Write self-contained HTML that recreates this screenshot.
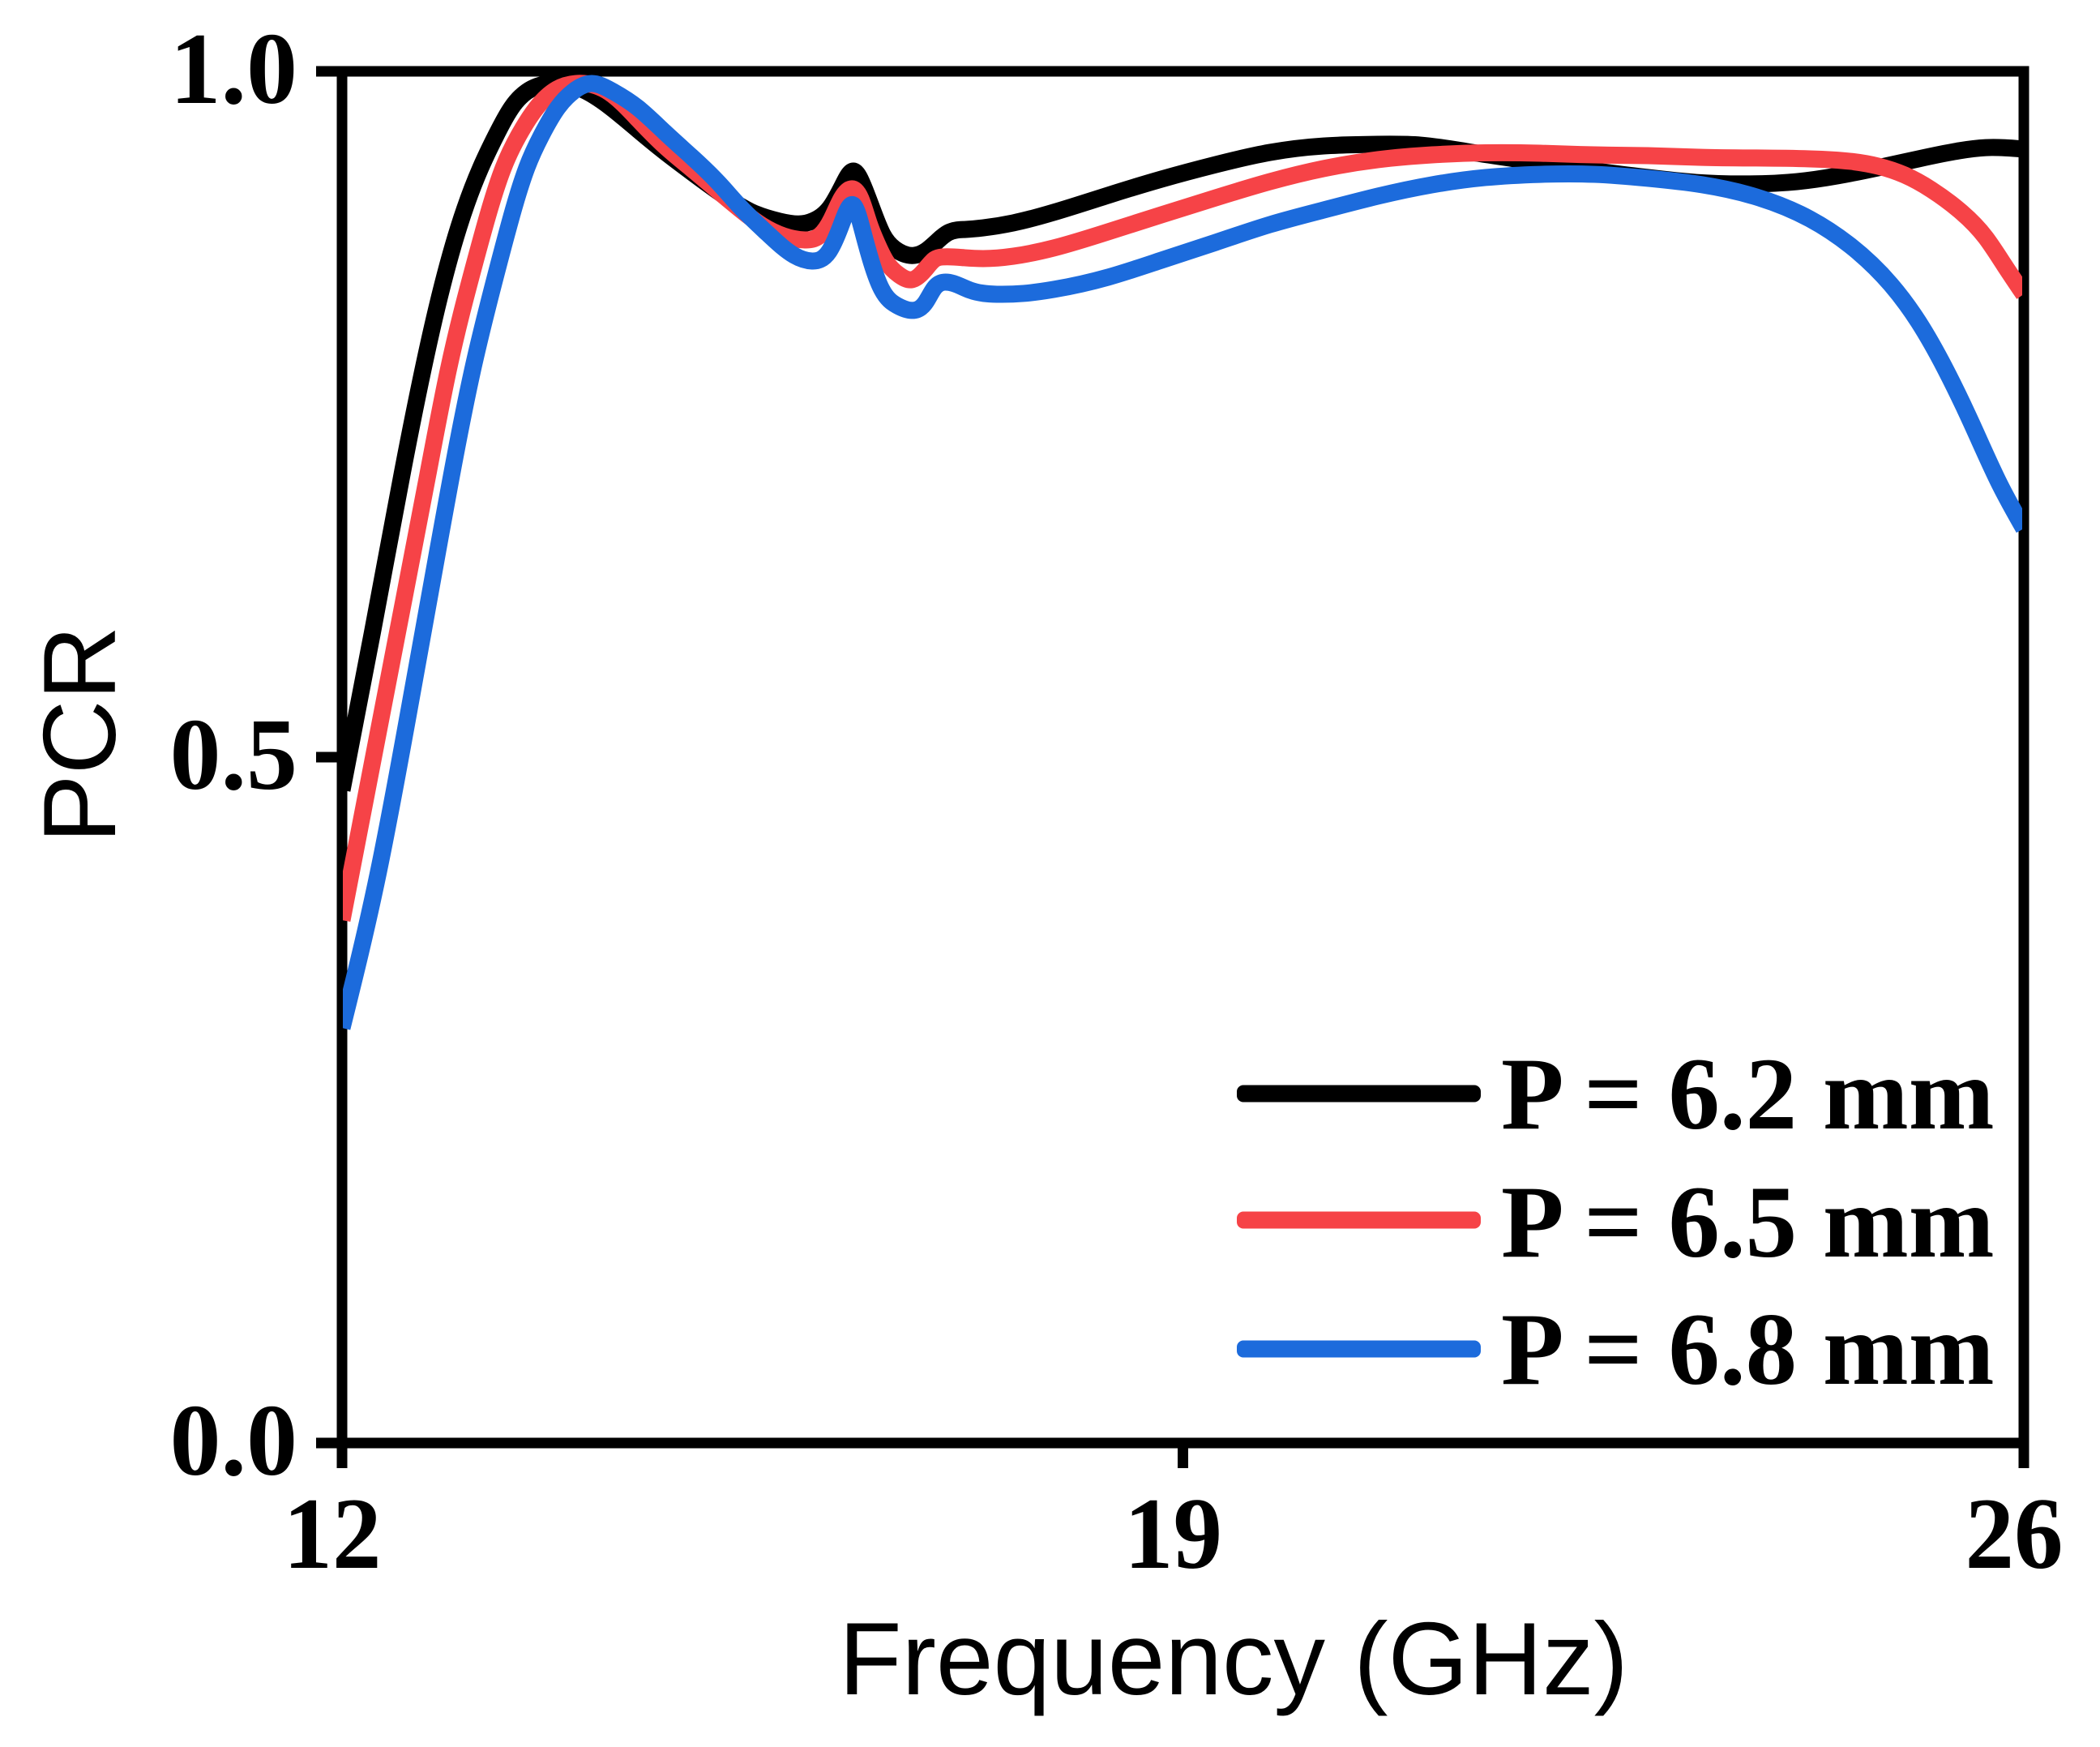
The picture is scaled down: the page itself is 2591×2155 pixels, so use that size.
<!DOCTYPE html>
<html lang="en">
<head>
<meta charset="utf-8">
<title>PCR vs Frequency</title>
<style>
  html, body { margin: 0; padding: 0; background: #fff; }
  svg { display: block; }
  .tick-label { font-family: "Liberation Serif", serif; font-weight: 700; font-size: 126px; fill: #000; }
  .axis-title { font-family: "Liberation Sans", sans-serif; font-size: 127px; fill: #000; }
  .legend-label { font-family: "Liberation Serif", serif; font-weight: 700; font-size: 127px; fill: #000; }
</style>
</head>
<body>
<svg id="chart" xmlns="http://www.w3.org/2000/svg" width="2591" height="2155" viewBox="0 0 2591 2155">
  <rect x="0" y="0" width="2591" height="2155" fill="#ffffff"/>
  <defs>
    <clipPath id="plot-clip"><rect x="423" y="60" width="2072" height="1740"/></clipPath>
  </defs>
  <g id="axes"></g>
  <g id="series" clip-path="url(#plot-clip)" fill="none" stroke-width="21" stroke-linejoin="round"></g>

  <text class="axis-title" x="1035" y="2090">Frequency (GHz)</text>
  <text class="axis-title" text-anchor="middle" transform="translate(142 906) rotate(-90)">PCR</text>

  <g>
    <rect x="1526" y="1338.5" width="301" height="21" rx="8" fill="#000000"/>
    <text class="legend-label" x="1852" y="1392">P = 6.2 mm</text>
    <rect x="1526" y="1494.5" width="301" height="21" rx="8" fill="#F64347"/>
    <text class="legend-label" x="1852" y="1550">P = 6.5 mm</text>
    <rect x="1526" y="1653.5" width="301" height="21" rx="8" fill="#1C6BDC"/>
    <text class="legend-label" x="1852" y="1707">P = 6.8 mm</text>
  </g>
</svg>
<script>
const xTicks = [12, 19, 26];
const yTicks = [0, 0.5, 1];
const xTickLabels = ["12", "19", "26"];
const yTickLabels = ["0.0", "0.5", "1.0"];

const freq62 = [12,12.253,12.506,12.789,12.972,13.154,13.282,13.41,13.538,13.727,13.963,14.233,14.463,14.685,14.908,15.218,15.4,15.643,15.832,15.954,16.062,16.17,16.257,16.352,16.419,16.5,16.601,16.763,16.865,16.959,17.047,17.182,17.337,17.587,17.924,18.376,18.821,19.273,19.725,20.171,20.623,20.98,21.365,21.857,22.491,22.87,23.274,23.659,24.111,24.448,24.786,25.123,25.46,25.683,26];
const pcr62 = [0.476,0.591,0.7092,0.8274,0.8865,0.9297,0.9533,0.9734,0.9852,0.9911,0.9882,0.974,0.9574,0.9415,0.9267,0.9072,0.8978,0.8907,0.8889,0.8924,0.9007,0.9173,0.9273,0.9137,0.8983,0.8812,0.8706,0.8658,0.8694,0.8765,0.8824,0.8847,0.8859,0.8895,0.8972,0.9096,0.9214,0.932,0.9409,0.9456,0.9468,0.9462,0.9415,0.935,0.9267,0.9226,0.919,0.9179,0.9196,0.9238,0.9297,0.9362,0.9421,0.9444,0.9433];

const freq65 = [12,12.202,12.462,12.715,12.884,13.107,13.343,13.471,13.619,13.788,13.943,14.233,14.463,14.685,14.908,15.313,15.495,15.677,15.853,15.981,16.075,16.156,16.237,16.318,16.386,16.453,16.527,16.635,16.743,16.851,16.932,16.999,17.182,17.337,17.587,17.924,18.376,18.821,19.273,19.725,20.171,20.623,21.075,21.52,21.972,22.424,22.87,23.322,23.774,24.219,24.556,24.786,25.008,25.231,25.46,25.683,25.838,26];
const pcr65 = [0.3812,0.4728,0.591,0.7063,0.7819,0.8611,0.9297,0.9533,0.9734,0.987,0.9911,0.9841,0.9651,0.9456,0.9291,0.8995,0.8877,0.88,0.8771,0.8806,0.8924,0.9072,0.9143,0.9072,0.8895,0.8747,0.8617,0.8517,0.8481,0.8552,0.8629,0.8647,0.8641,0.8635,0.8652,0.8712,0.883,0.8954,0.9078,0.9196,0.9291,0.9356,0.9391,0.9406,0.9403,0.9391,0.9385,0.9373,0.9368,0.9362,0.9344,0.9309,0.9244,0.9137,0.8989,0.8788,0.8587,0.8375];

const freq68 = [12,12.304,12.553,12.796,13.086,13.309,13.538,13.66,13.795,13.923,14.078,14.233,14.463,14.685,14.908,15.137,15.313,15.542,15.765,15.913,16.055,16.149,16.197,16.257,16.338,16.406,16.493,16.622,16.743,16.858,16.932,17.013,17.229,17.452,17.674,17.924,18.376,18.821,19.273,19.725,20.171,20.623,21.075,21.52,21.972,22.424,22.87,23.322,23.774,24.219,24.556,24.893,25.123,25.346,25.568,25.798,26];
const pcr68 = [0.3026,0.4167,0.5319,0.6501,0.7819,0.8611,0.9297,0.9533,0.9734,0.9852,0.9911,0.9864,0.9734,0.9557,0.9379,0.9184,0.9013,0.8818,0.8658,0.8617,0.8688,0.8865,0.8972,0.9025,0.8824,0.8611,0.841,0.8292,0.8257,0.8316,0.8422,0.8463,0.8404,0.8375,0.8381,0.841,0.8499,0.8623,0.8753,0.8883,0.8989,0.909,0.9173,0.9226,0.9249,0.9249,0.922,0.9173,0.9084,0.8924,0.8729,0.8446,0.8174,0.7831,0.7429,0.6992,0.6667];

const NS = "http://www.w3.org/2000/svg";
const X0 = 422, X1 = 2497, Y0 = 1780, Y1 = 88;
function xScale(f) { return X0 + (f - 12) * (X1 - X0) / 14; }
function yScale(v) { return Y0 - v * (Y0 - Y1); }

const axes = document.getElementById("axes");
function spine(name, x1, y1, x2, y2) {
  const l = document.createElementNS(NS, "line");
  l.setAttribute("x1", x1); l.setAttribute("y1", y1);
  l.setAttribute("x2", x2); l.setAttribute("y2", y2);
  l.setAttribute("stroke", "#000");
  l.setAttribute("stroke-width", 13);
  
  
  axes.appendChild(l);
}
spine("left-spine", X0, 81.5, X0, 1811);
spine("right-spine", X1, 81.5, X1, 1811);
spine("top-spine", 390, Y1, 2503.5, Y1);
spine("bottom-spine", 390, Y0, 2503.5, Y0);

xTicks.forEach(function (t, i) {
  const tick = document.createElementNS(NS, "line");
  tick.setAttribute("x1", xScale(t)); tick.setAttribute("x2", xScale(t));
  tick.setAttribute("y1", Y0); tick.setAttribute("y2", 1811);
  tick.setAttribute("stroke", "#000");
  tick.setAttribute("stroke-width", 13);
  
  
  axes.appendChild(tick);
  const label = document.createElementNS(NS, "text");
  label.setAttribute("class", "tick-label");
  label.setAttribute("text-anchor", "middle");
  label.setAttribute("x", xScale(t) - 12);
  label.setAttribute("y", 1934);
  label.setAttribute("textLength", "121");
  label.setAttribute("lengthAdjust", "spacingAndGlyphs");
  label.textContent = xTickLabels[i];
  
  
  axes.appendChild(label);
});

yTicks.forEach(function (t, i) {
  const tick = document.createElementNS(NS, "line");
  tick.setAttribute("x1", 390); tick.setAttribute("x2", X0);
  tick.setAttribute("y1", yScale(t)); tick.setAttribute("y2", yScale(t));
  tick.setAttribute("stroke", "#000");
  tick.setAttribute("stroke-width", 13);
  
  
  axes.appendChild(tick);
  const label = document.createElementNS(NS, "text");
  label.setAttribute("class", "tick-label");
  label.setAttribute("text-anchor", "end");
  label.setAttribute("x", 367);
  label.setAttribute("y", yScale(t) + 39);
  label.textContent = yTickLabels[i];
  
  
  axes.appendChild(label);
});

/* Natural cubic spline path through the scaled data points */
function splinePath(freqs, values) {
  const px = freqs.map(xScale), py = values.map(yScale), n = px.length;
  const h = [], a = new Array(n).fill(0), b = new Array(n).fill(1), c = new Array(n).fill(0), r = new Array(n).fill(0);
  for (let i = 0; i < n - 1; i++) h.push(px[i + 1] - px[i]);
  for (let i = 1; i < n - 1; i++) {
    a[i] = h[i - 1];
    b[i] = 2 * (h[i - 1] + h[i]);
    c[i] = h[i];
    r[i] = 6 * ((py[i + 1] - py[i]) / h[i] - (py[i] - py[i - 1]) / h[i - 1]);
  }
  for (let i = 1; i < n; i++) {
    const w = a[i] / b[i - 1];
    b[i] -= w * c[i - 1];
    r[i] -= w * r[i - 1];
  }
  const s = new Array(n).fill(0);
  s[n - 1] = r[n - 1] / b[n - 1];
  for (let i = n - 2; i >= 0; i--) s[i] = (r[i] - c[i] * s[i + 1]) / b[i];
  let path = "M" + px[0].toFixed(2) + " " + py[0].toFixed(2);
  for (let i = 0; i < n - 1; i++) {
    const d0 = (py[i + 1] - py[i]) / h[i] - h[i] * (2 * s[i] + s[i + 1]) / 6;
    const d1 = (py[i + 1] - py[i]) / h[i] + h[i] * (s[i] + 2 * s[i + 1]) / 6;
    const t = h[i] / 3;
    path += "C" + (px[i] + t).toFixed(2) + " " + (py[i] + d0 * t).toFixed(2) + " " +
            (px[i + 1] - t).toFixed(2) + " " + (py[i + 1] - d1 * t).toFixed(2) + " " +
            px[i + 1].toFixed(2) + " " + py[i + 1].toFixed(2);
  }
  return path;
}

const seriesGroup = document.getElementById("series");

const line62 = document.createElementNS(NS, "path");
line62.setAttribute("d", splinePath(freq62, pcr62));
line62.setAttribute("stroke", "#000000");


seriesGroup.appendChild(line62);

const line65 = document.createElementNS(NS, "path");
line65.setAttribute("d", splinePath(freq65, pcr65));
line65.setAttribute("stroke", "#F64347");


seriesGroup.appendChild(line65);

const line68 = document.createElementNS(NS, "path");
line68.setAttribute("d", splinePath(freq68, pcr68));
line68.setAttribute("stroke", "#1C6BDC");


seriesGroup.appendChild(line68);
</script>
</body>
</html>
